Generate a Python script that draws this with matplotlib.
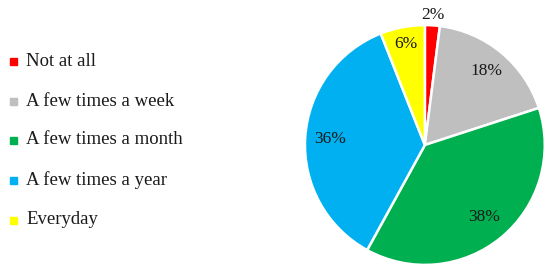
import matplotlib
matplotlib.use("Agg")
import matplotlib.pyplot as plt
import numpy as np

categories = ["Not at all", "A few times a week", "A few times a month", "A few times a year", "Everyday"]
values = [2, 18, 38, 36, 6]
colors = ["#ff0000", "#bfbfbf", "#00b050", "#00b0f0", "#ffff00"]

plt.rcParams['font.family'] = ['Liberation Serif', 'DejaVu Serif']

fig = plt.figure(figsize=(5.5, 2.7), dpi=100)
ax = fig.add_axes([0.5545, 0.0185, 0.436, 0.889])
wedges, texts = ax.pie(values, colors=colors, startangle=90, counterclock=False,
                       wedgeprops=dict(edgecolor='white', linewidth=1.8))
ax.set_aspect('equal')
ax.set_xlim(-1, 1)
ax.set_ylim(-1, 1)

dists = [1.09, 0.8, 0.78, 0.79, 0.86]
for w, v, d in zip(wedges, values, dists):
    ang = np.deg2rad((w.theta1 + w.theta2) / 2)
    ax.text(d * np.cos(ang), d * np.sin(ang), f"{v}%", ha='center', va='center',
            fontsize=12.5, color='#1a1a1a', clip_on=False)

# legend
lax = fig.add_axes([0, 0, 0.5, 1])
lax.axis('off')
lax.set_xlim(0, 275)
lax.set_ylim(270, 0)
ys = [61, 101, 140, 180, 220]
for c, lab, y in zip(colors, categories, ys):
    lax.add_patch(plt.Rectangle((10, y - 3.5), 7, 7, color=c))
    lax.text(26, y, lab, va='center', ha='left', fontsize=13.5, color='#1a1a1a')

fig.savefig("out.png", dpi=100)
